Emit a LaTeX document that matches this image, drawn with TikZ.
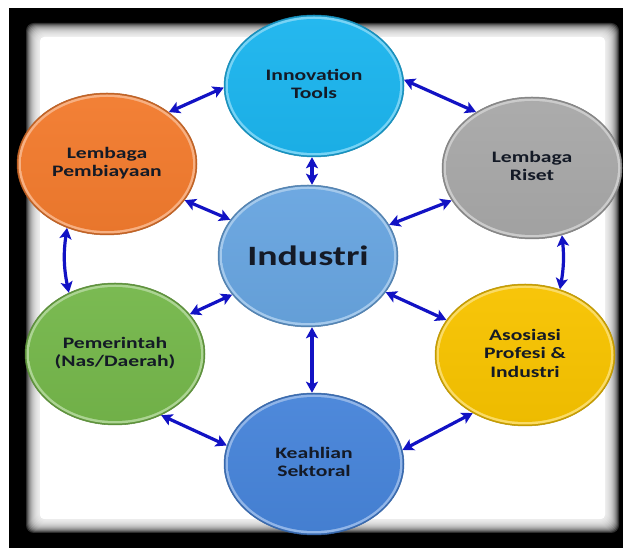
\documentclass[tikz,border=0pt]{standalone}
\usepackage{fontspec}
\usepackage{graphicx}
\setmainfont{Carlito}
\usetikzlibrary{shapes.geometric,arrows.meta}

\definecolor{cInn}{HTML}{1CB5EE}
\definecolor{cOrg}{HTML}{F27B2E}
\definecolor{cGry}{HTML}{A8A8A8}
\definecolor{cInd}{HTML}{68A5E0}
\definecolor{cGrn}{HTML}{75B74B}
\definecolor{cYel}{HTML}{F7C300}
\definecolor{cKea}{HTML}{4784D9}
\definecolor{txt}{HTML}{141A26}
\definecolor{link}{HTML}{1212C4}

% wide bold label, two sizes
\newcommand{\lbl}[1]{\scalebox{1.35}[1]{\fontsize{16}{18.5}\selectfont\bfseries\begin{tabular}{@{}c@{}}#1\end{tabular}}}
\newcommand{\biglbl}[1]{\scalebox{1.35}[1]{\fontsize{28}{32}\selectfont\bfseries #1}}

\tikzset{
  bub/.style={ellipse, minimum width=180pt, minimum height=142pt, inner sep=0pt,
    fill=#1!82!black, draw=#1!75!black, line width=0.5pt, text=txt,
    path picture={
      \fill[#1!60!white] (path picture bounding box.center) ellipse [x radius=88.5pt, y radius=69.5pt];
      \shade[top color=#1!96!white, bottom color=#1!96!black]
        (path picture bounding box.center) ellipse [x radius=86pt, y radius=67pt];
    }},
  link/.style={draw=link, line width=3.2pt,
    {Stealth[length=11pt,width=12pt,inset=2.5pt]}-{Stealth[length=11pt,width=12pt,inset=2.5pt]}},
}

\begin{document}
\begin{tikzpicture}[x=1pt,y=1pt]
  \useasboundingbox (0,0) rectangle (623,548);
  % page and dark frame with a soft inner edge
  \fill[white] (0,0) rectangle (623,548);
  \fill[black] (9,0) rectangle (623,540);
  \foreach \k in {0,...,13} {
    \fill[white, opacity=0.18, rounded corners=8pt] (26+\k,15+\k) rectangle (619-\k,525-\k);
  }
  \fill[white, rounded corners=4pt] (40,29) rectangle (605,511);

  % bubbles
  \node[bub=cInn] (inn) at (314,462) {\lbl{Innovation\\Tools}};
  \node[bub=cOrg] (org) at (107,384) {\lbl{Lembaga\\Pembiayaan}};
  \node[bub=cGry] (gry) at (532,380) {\lbl{Lembaga\\Riset}};
  \node[bub=cInd] (ind) at (308,292) {\biglbl{Industri}};
  \node[bub=cGrn] (grn) at (115,194) {\lbl{Pemerintah\\(Nas/Daerah)}};
  \node[bub=cYel] (yel) at (525,193) {\lbl{Asosiasi\\Profesi \&\\Industri}};
  \node[bub=cKea] (kea) at (314,84) {\lbl{Keahlian\\Sektoral}};

  % two-way links
  \draw[link] (org.40) -- (inn.181);
  \draw[link] (inn.4) -- (gry.135);
  \draw[link] ([xshift=-2pt]inn.south) -- ([xshift=-2pt]inn.south |- ind.north);
  \draw[link] (org.-25) -- (ind.155);
  \draw[link] (gry.202) -- (ind.21);
  \draw[link] (org.238) to[bend right=10] (grn.127);
  \draw[link] (gry.294) to[bend left=8] (yel.62);
  \draw[link] (grn.28) -- (ind.207);
  \draw[link] (yel.156) -- (ind.-25);
  \draw[link] ([xshift=-2pt]kea.north |- ind.south) -- ([xshift=-2pt]kea.north);
  \draw[link] (grn.-53) -- (kea.168);
  \draw[link] (yel.228) -- (kea.9);
\end{tikzpicture}
\end{document}
